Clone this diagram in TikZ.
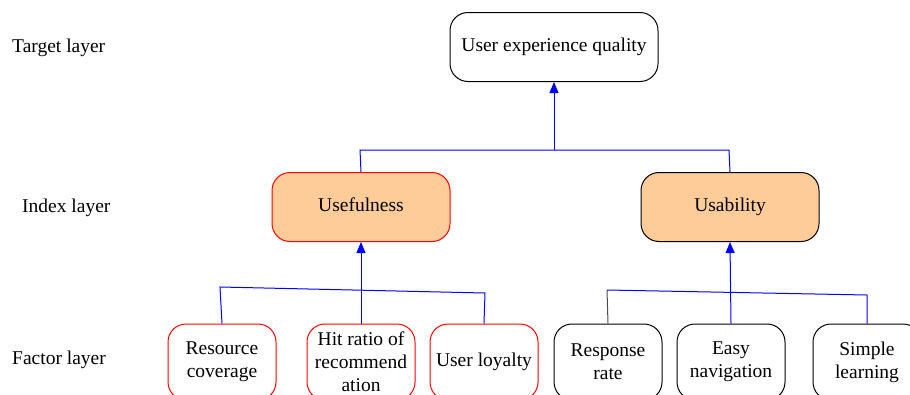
\documentclass[tikz,border=0pt]{standalone}
\usepackage{fontspec}
\setmainfont{Liberation Serif}
\usetikzlibrary{arrows.meta}
\definecolor{peach}{RGB}{253,204,153}
\tikzset{
  layerbox/.style={draw, line width=1pt, rounded corners=18pt, align=center,
    inner sep=0pt, font=\fontsize{19.5}{23}\selectfont},
  topbox/.style={layerbox, minimum width=208pt, minimum height=69pt, text height=13pt, text depth=4pt},
  idxbox/.style={layerbox, fill=peach, minimum width=178pt, minimum height=69pt, text height=13pt, text depth=4pt},
  facbox/.style={layerbox, minimum width=108pt, minimum height=76pt},
  laylabel/.style={font=\fontsize{19.5}{23}\selectfont, anchor=west, inner sep=0pt},
  bus/.style={blue, line width=1pt},
  uparrow/.style={bus, -{Triangle[length=11pt,width=9pt]}}
}
\begin{document}
\begin{tikzpicture}[x=1pt, y=-1pt]
   \useasboundingbox (0,0) rectangle (910,394);
   % layer names
   \node[laylabel] (tlay) at (12,48) {Target layer};
   \node[laylabel] (ilay) at (22,208) {Index layer};
   \node[laylabel] (flay) at (12,360) {Factor layer};
   % boxes
   \node[topbox] (uxq) at (554,47) {User experience quality};
   \node[idxbox, draw=red] (usef) at (361,207) {Usefulness};
   \node[idxbox] (usab) at (730,207) {Usability};
   \node[facbox, draw=red] (rcov) at (222,362) {Resource\\coverage};
   \node[facbox, draw=red] (hitr) at (361,362) {Hit ratio of\\recommend\\ation};
   \node[facbox, draw=red] (loya) at (484,362) {User loyalty};
   \node[facbox] (resp) at (608,362) {Response\\rate};
   \node[facbox] (easy) at (731,362) {Easy\\navigation};
   \node[facbox] (simp) at (867,362) {Simple\\learning};
   % bus ends
   \coordinate (topl) at (360,150);
   \coordinate (topm) at (554,150);
   \coordinate (topr) at (729,150);
   \coordinate (lbusl) at (220,287);
   \coordinate (lbusr) at (485,293);
   \coordinate (rbusl) at (607,290);
   \coordinate (rbusr) at (867,295);
   % connectors
   \draw[bus] (usef.north) -- (topl) -- (topr) -- (usab.north);
   \draw[uparrow] (topm) -- (uxq.south);
   \draw[bus] (rcov.north) -- (lbusl) -- (lbusr) -- (loya.north);
   \draw[uparrow] (hitr.north) -- (usef.south);
   \draw[line width=1pt, black!70] (resp.north) -- (rbusl);
   \draw[bus] (rbusl) -- (rbusr) -- (simp.north);
   \draw[uparrow] (easy.north) -- (usab.south);
\end{tikzpicture}
\end{document}
